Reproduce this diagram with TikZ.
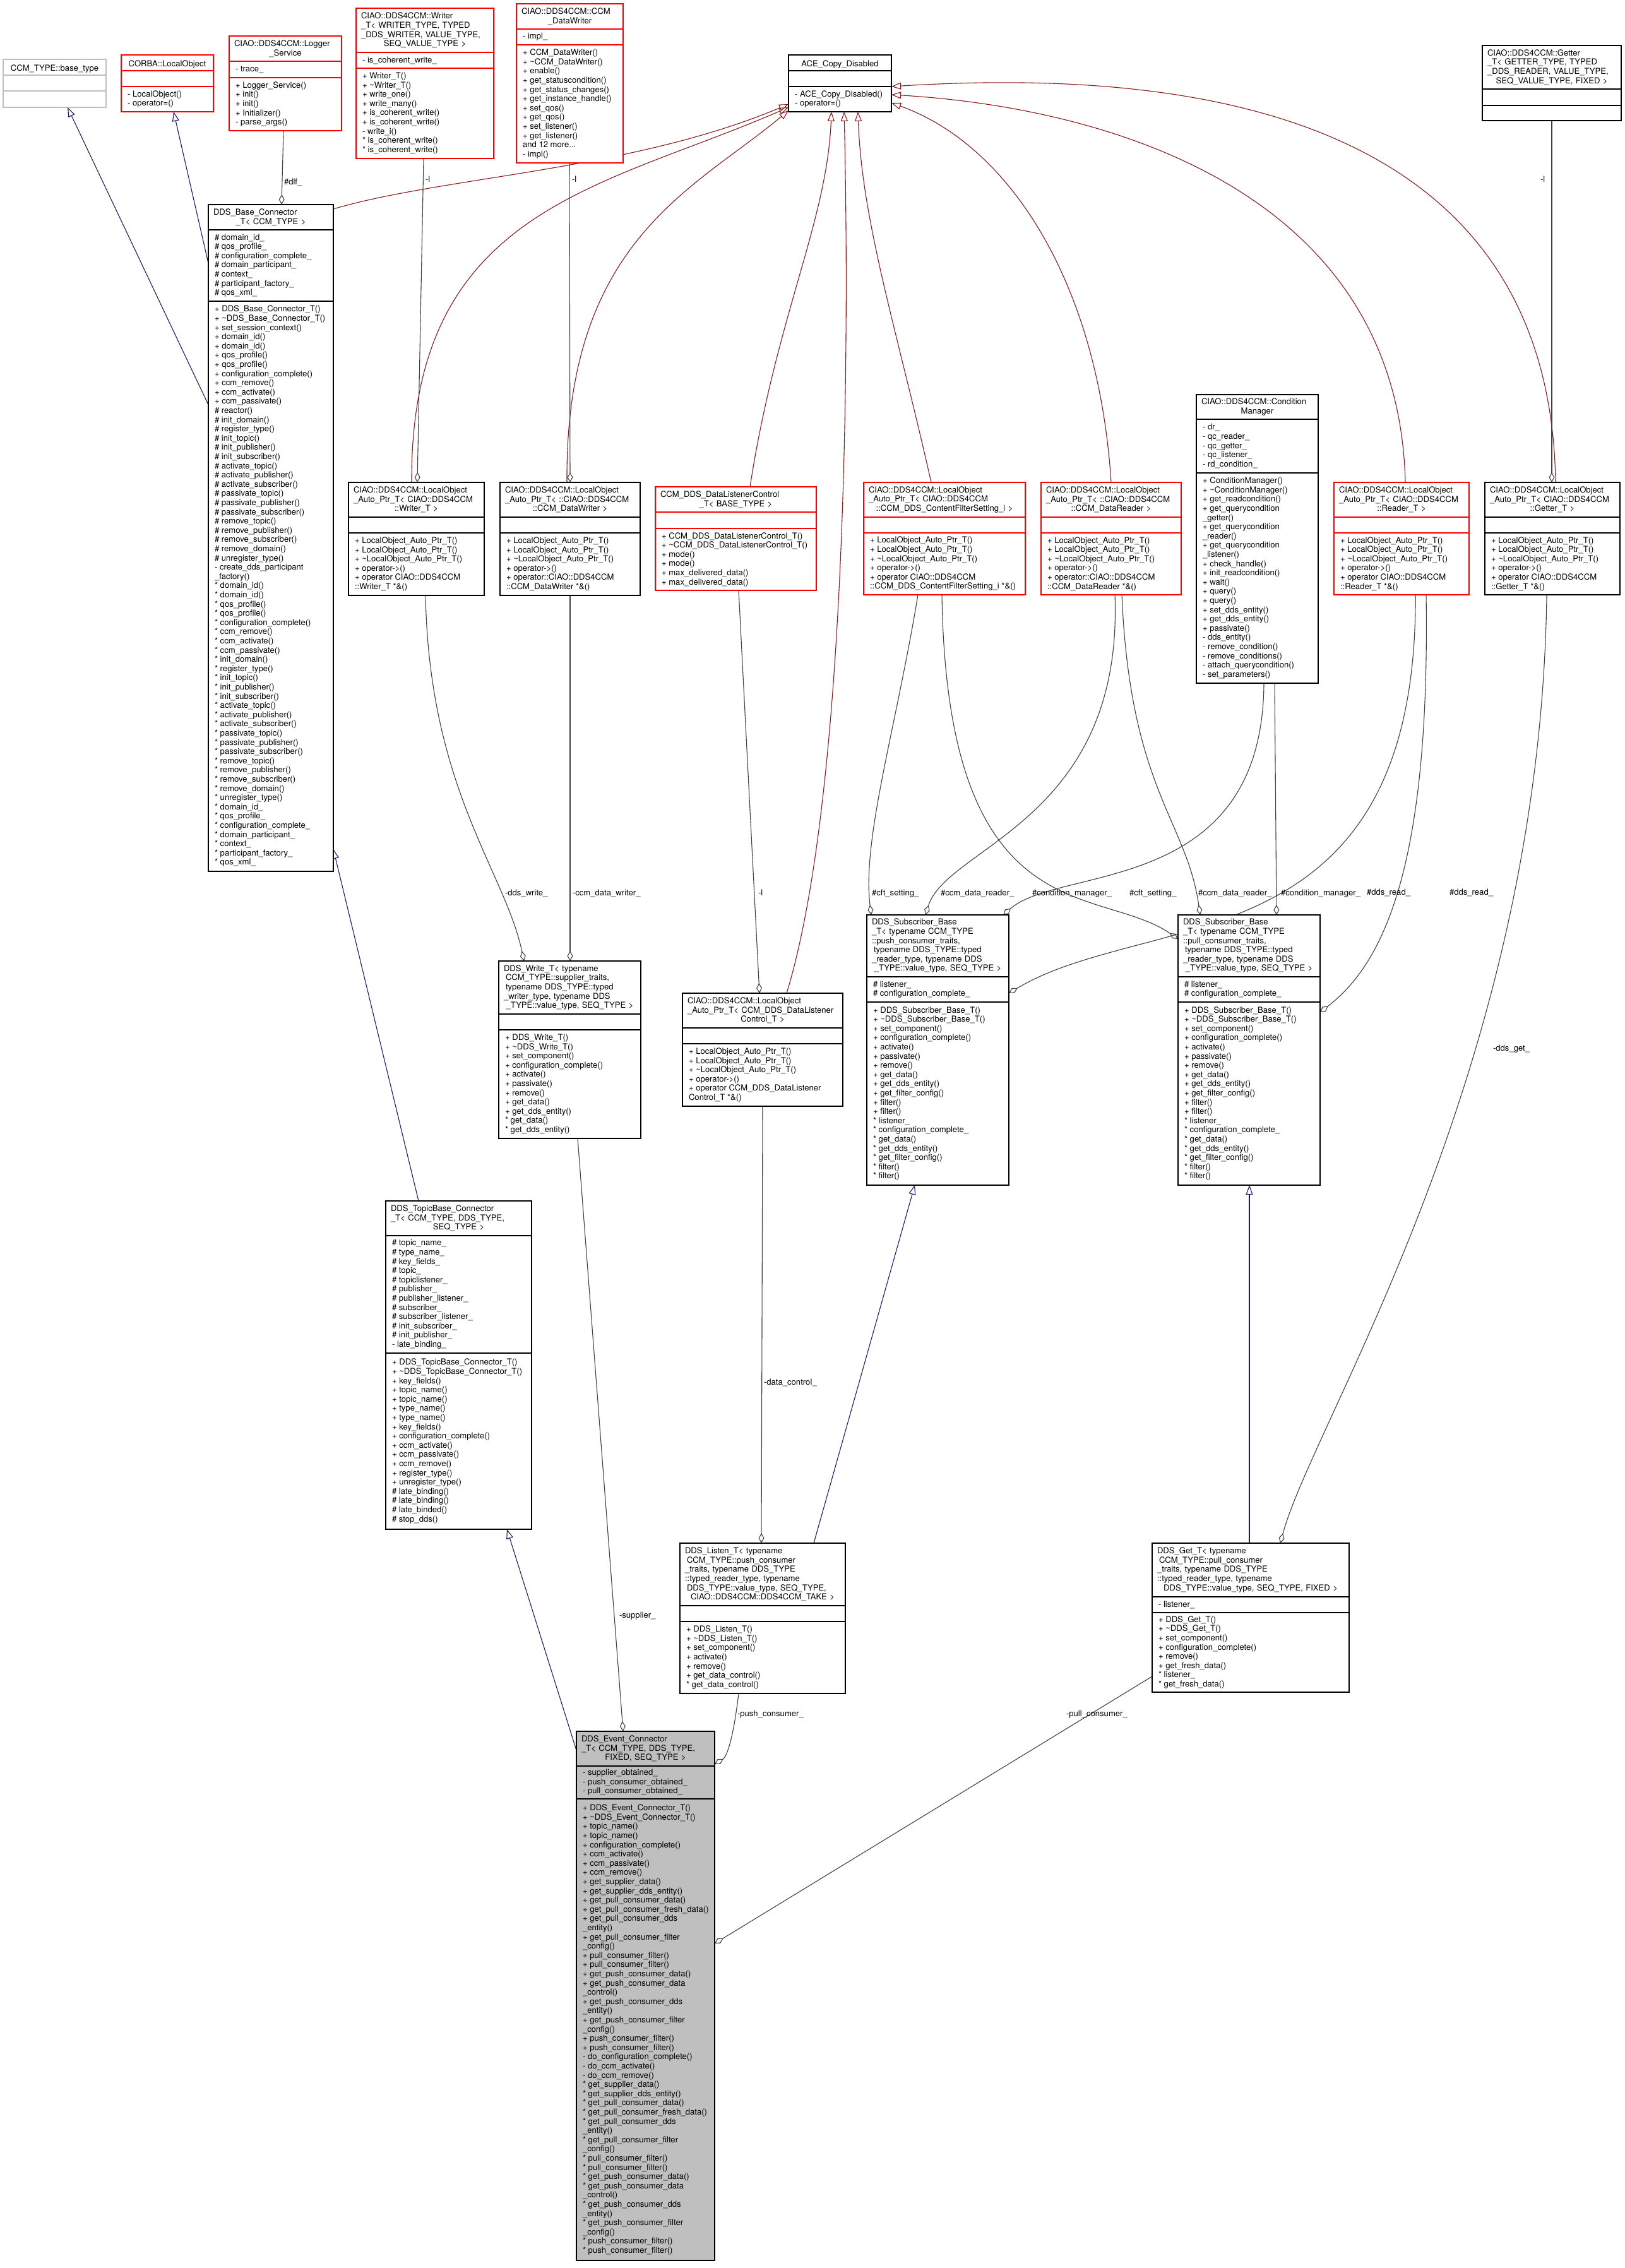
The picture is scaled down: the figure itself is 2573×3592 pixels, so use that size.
\documentclass[tikz,border=0pt]{standalone}
\usepackage{fontspec}
\setmainfont{TeX Gyre Heros}
\usetikzlibrary{fit,arrows.meta,calc}
\definecolor{blueE}{HTML}{191970}
\definecolor{redE}{HTML}{8B1A1A}
\definecolor{grayE}{HTML}{404040}
\definecolor{boxred}{HTML}{FF0000}
\definecolor{boxgray}{HTML}{BFBFBF}
\pgfdeclarelayer{back}
\pgfdeclarelayer{bg}
\pgfsetlayers{back,bg,main}
\newcommand\mytl{\textasciitilde}
\newcommand\TT[2]{{\raggedright #1\par}{\centering #2\par}}
\tikzset{
  txtf/.style={font={\fontsize{13.1}{14.6}\selectfont\parindent=0pt\parskip=0pt}},
  txt/.style={txtf, inner sep=0pt, outer sep=0pt, text=black},
  boxst/.style={inner sep=0pt, outer sep=0pt, line width=1.15pt},
  boxline/.style={line width=1.15pt},
  inh/.style={draw=blueE, line width=1.1pt, -{Triangle[open, length=15pt, width=11pt]}},
  inr/.style={draw=redE, line width=1.1pt, -{Triangle[open, length=15pt, width=11pt]}},
  agg/.style={draw=grayE, line width=1.1pt, -{Diamond[open, length=16pt, width=9pt]}},
  lbl/.style={txt}
}
% name, colour, fill, x1, y1, x2, y2, ya, yb
\newcommand\cbox[9]{%
  \node[boxst, draw=#2, fill=#3, fit={(#4,#5) (#6,#7)}] (#1) {};
  \draw[#2, boxline] (#4,#8) -- (#6,#8) (#4,#9) -- (#6,#9);
  \pgfmathsetmacro\cbw{#6-#4-16}%
  \node[txt, text width=\cbw pt, anchor=center] (#1-t) at ({(#4+#6)/2},{(#5+#8)/2}) {\Ttl};
  \node[txt, anchor=west, align=left] (#1-a) at ({#4+10},{(#8+#9)/2}) {\Att};
  \node[txt, anchor=west, align=left] (#1-m) at ({#4+10},{(#9+#7)/2}) {\Met};
}
\begin{document}
\begin{tikzpicture}[x=1pt,y=-1pt]
\useasboundingbox (0,0) rectangle (2573,3592);
\begin{pgfonlayer}{back}
\fill[white] (0,0) rectangle (2573,3592);
\end{pgfonlayer}

% ---------------- boxes ----------------
\def\Ttl{\TT{}{CCM\_TYPE::base\_type}}\def\Att{}\def\Met{}
\cbox{bt}{boxgray}{white}{5}{94}{168}{170}{119}{144}

\def\Ttl{\TT{}{CORBA::LocalObject}}\def\Att{}\def\Met{- LocalObject()\\- operator=()}
\cbox{co}{boxred}{white}{192}{87}{338}{177}{112}{137}

\def\Ttl{\TT{CIAO::DDS4CCM::Logger}{\_Service}}\def\Att{- trace\_}
\def\Met{+ Logger\_Service()\\+ init()\\+ init()\\+ Initializer()\\- parse\_args()}
\cbox{lg}{boxred}{white}{363}{57}{541}{207}{97}{123}

\def\Ttl{\TT{CIAO::DDS4CCM::Writer\\\_T< WRITER\_TYPE, TYPED\\\_DDS\_WRITER, VALUE\_TYPE,}{SEQ\_VALUE\_TYPE >}}
\def\Att{- is\_coherent\_write\_}
\def\Met{+ Writer\_T()\\+ \mytl Writer\_T()\\+ write\_one()\\+ write\_many()\\+ is\_coherent\_write()\\+ is\_coherent\_write()\\- write\_i()\\{*} is\_coherent\_write()\\{*} is\_coherent\_write()}
\cbox{wr}{boxred}{white}{564}{13}{782}{251}{83}{108}

\def\Ttl{\TT{CIAO::DDS4CCM::CCM}{\_DataWriter}}\def\Att{- impl\_}
\def\Met{+ CCM\_DataWriter()\\+ \mytl CCM\_DataWriter()\\+ enable()\\+ get\_statuscondition()\\+ get\_status\_changes()\\+ get\_instance\_handle()\\+ set\_qos()\\+ get\_qos()\\+ set\_listener()\\+ get\_listener()\\and 12 more...\\- impl()}
\cbox{dw}{boxred}{white}{818}{6}{987}{258}{46}{71}

\def\Ttl{\TT{}{ACE\_Copy\_Disabled}}\def\Att{}\def\Met{- ACE\_Copy\_Disabled()\\- operator=()}
\cbox{ace}{black}{white}{1249}{87}{1412}{177}{112}{137}

\def\Ttl{\TT{CIAO::DDS4CCM::Getter\\\_T< GETTER\_TYPE, TYPED\\\_DDS\_READER, VALUE\_TYPE,}{SEQ\_VALUE\_TYPE, FIXED >}}\def\Att{}\def\Met{}
\cbox{gt}{black}{white}{2348}{72}{2568}{191}{141}{167}

\def\Ttl{\TT{DDS\_Base\_Connector}{\_T< CCM\_TYPE >}}
\def\Att{\# domain\_id\_\\\# qos\_profile\_\\\# configuration\_complete\_\\\# domain\_participant\_\\\# context\_\\\# participant\_factory\_\\\# qos\_xml\_}
\def\Met{+ DDS\_Base\_Connector\_T()\\+ \mytl DDS\_Base\_Connector\_T()\\+ set\_session\_context()\\+ domain\_id()\\+ domain\_id()\\+ qos\_profile()\\+ qos\_profile()\\+ configuration\_complete()\\+ ccm\_remove()\\+ ccm\_activate()\\+ ccm\_passivate()\\\# reactor()\\\# init\_domain()\\\# register\_type()\\\# init\_topic()\\\# init\_publisher()\\\# init\_subscriber()\\\# activate\_topic()\\\# activate\_publisher()\\\# activate\_subscriber()\\\# passivate\_topic()\\\# passivate\_publisher()\\\# passivate\_subscriber()\\\# remove\_topic()\\\# remove\_publisher()\\\# remove\_subscriber()\\\# remove\_domain()\\\# unregister\_type()\\- create\_dds\_participant\\\_factory()\\{*} domain\_id()\\{*} domain\_id()\\{*} qos\_profile()\\{*} qos\_profile()\\{*} configuration\_complete()\\{*} ccm\_remove()\\{*} ccm\_activate()\\{*} ccm\_passivate()\\{*} init\_domain()\\{*} register\_type()\\{*} init\_topic()\\{*} init\_publisher()\\{*} init\_subscriber()\\{*} activate\_topic()\\{*} activate\_publisher()\\{*} activate\_subscriber()\\{*} passivate\_topic()\\{*} passivate\_publisher()\\{*} passivate\_subscriber()\\{*} remove\_topic()\\{*} remove\_publisher()\\{*} remove\_subscriber()\\{*} remove\_domain()\\{*} unregister\_type()\\{*} domain\_id\_\\{*} qos\_profile\_\\{*} configuration\_complete\_\\{*} domain\_participant\_\\{*} context\_\\{*} participant\_factory\_\\{*} qos\_xml\_}
\cbox{bc}{black}{white}{330}{324}{528}{1380}{364}{477}

\def\Att{}
\def\Ttl{\TT{CIAO::DDS4CCM::LocalObject\\\_Auto\_Ptr\_T< CIAO::DDS4CCM}{::Writer\_T >}}
\def\Met{+ LocalObject\_Auto\_Ptr\_T()\\+ LocalObject\_Auto\_Ptr\_T()\\+ \mytl LocalObject\_Auto\_Ptr\_T()\\+ operator->()\\+ operator CIAO::DDS4CCM\\::Writer\_T *\&()}
\cbox{low}{black}{white}{552}{764}{767}{943}{819}{844}

\def\Ttl{\TT{CIAO::DDS4CCM::LocalObject\\\_Auto\_Ptr\_T< ::CIAO::DDS4CCM}{::CCM\_DataWriter >}}
\def\Met{+ LocalObject\_Auto\_Ptr\_T()\\+ LocalObject\_Auto\_Ptr\_T()\\+ \mytl LocalObject\_Auto\_Ptr\_T()\\+ operator->()\\+ operator::CIAO::DDS4CCM\\::CCM\_DataWriter *\&()}
\cbox{lodw}{black}{white}{792}{764}{1014}{943}{819}{844}

\def\Ttl{\TT{CCM\_DDS\_DataListenerControl}{\_T< BASE\_TYPE >}}
\def\Met{+ CCM\_DDS\_DataListenerControl\_T()\\+ \mytl CCM\_DDS\_DataListenerControl\_T()\\+ mode()\\+ mode()\\+ max\_delivered\_data()\\+ max\_delivered\_data()}
\cbox{dlc}{boxred}{white}{1038}{771}{1293}{935}{811}{837}

\def\Ttl{\TT{CIAO::DDS4CCM::LocalObject\\\_Auto\_Ptr\_T< CIAO::DDS4CCM}{::CCM\_DDS\_ContentFilterSetting\_i >}}
\def\Met{+ LocalObject\_Auto\_Ptr\_T()\\+ LocalObject\_Auto\_Ptr\_T()\\+ \mytl LocalObject\_Auto\_Ptr\_T()\\+ operator->()\\+ operator CIAO::DDS4CCM\\::CCM\_DDS\_ContentFilterSetting\_i *\&()}
\cbox{locf}{boxred}{white}{1368}{764}{1624}{942}{819}{844}

\def\Ttl{\TT{CIAO::DDS4CCM::LocalObject\\\_Auto\_Ptr\_T< ::CIAO::DDS4CCM}{::CCM\_DataReader >}}
\def\Met{+ LocalObject\_Auto\_Ptr\_T()\\+ LocalObject\_Auto\_Ptr\_T()\\+ \mytl LocalObject\_Auto\_Ptr\_T()\\+ operator->()\\+ operator::CIAO::DDS4CCM\\::CCM\_DataReader *\&()}
\cbox{lodr}{boxred}{white}{1649}{764}{1871}{942}{819}{844}

\def\Ttl{\TT{CIAO::DDS4CCM::Condition}{Manager}}
\def\Att{- dr\_\\- qc\_reader\_\\- qc\_getter\_\\- qc\_listener\_\\- rd\_condition\_}
\def\Met{+ ConditionManager()\\+ \mytl ConditionManager()\\+ get\_readcondition()\\+ get\_querycondition\\\_getter()\\+ get\_querycondition\\\_reader()\\+ get\_querycondition\\\_listener()\\+ check\_handle()\\+ init\_readcondition()\\+ wait()\\+ query()\\+ query()\\+ set\_dds\_entity()\\+ get\_dds\_entity()\\+ passivate()\\- dds\_entity()\\- remove\_condition()\\- remove\_conditions()\\- attach\_querycondition()\\- set\_parameters()}
\cbox{cm}{black}{white}{1895}{625}{2088}{1082}{664}{749}

\def\Att{}
\def\Ttl{\TT{CIAO::DDS4CCM::LocalObject\\\_Auto\_Ptr\_T< CIAO::DDS4CCM}{::Reader\_T >}}
\def\Met{+ LocalObject\_Auto\_Ptr\_T()\\+ LocalObject\_Auto\_Ptr\_T()\\+ \mytl LocalObject\_Auto\_Ptr\_T()\\+ operator->()\\+ operator CIAO::DDS4CCM\\::Reader\_T *\&()}
\cbox{lord}{boxred}{white}{2113}{764}{2327}{942}{819}{844}

\def\Ttl{\TT{CIAO::DDS4CCM::LocalObject\\\_Auto\_Ptr\_T< CIAO::DDS4CCM}{::Getter\_T >}}
\def\Met{+ LocalObject\_Auto\_Ptr\_T()\\+ LocalObject\_Auto\_Ptr\_T()\\+ \mytl LocalObject\_Auto\_Ptr\_T()\\+ operator->()\\+ operator CIAO::DDS4CCM\\::Getter\_T *\&()}
\cbox{loget}{black}{white}{2352}{764}{2566}{942}{819}{844}

\def\Ttl{\TT{DDS\_Write\_T< typename\\\hspace*{3pt}CCM\_TYPE::supplier\_traits,\\\hspace*{3pt}typename DDS\_TYPE::typed\\\_writer\_type, typename DDS}{\_TYPE::value\_type, SEQ\_TYPE >}}
\def\Met{+ DDS\_Write\_T()\\+ \mytl DDS\_Write\_T()\\+ set\_component()\\+ configuration\_complete()\\+ activate()\\+ passivate()\\+ remove()\\+ get\_data()\\+ get\_dds\_entity()\\{*} get\_data()\\{*} get\_dds\_entity()}
\cbox{wt}{black}{white}{790}{1522}{1015}{1803}{1606}{1631}

\def\Ttl{\TT{CIAO::DDS4CCM::LocalObject\\\_Auto\_Ptr\_T< CCM\_DDS\_DataListener}{Control\_T >}}
\def\Met{+ LocalObject\_Auto\_Ptr\_T()\\+ LocalObject\_Auto\_Ptr\_T()\\+ \mytl LocalObject\_Auto\_Ptr\_T()\\+ operator->()\\+ operator CCM\_DDS\_DataListener\\Control\_T *\&()}
\cbox{lolc}{black}{white}{1081}{1573}{1335}{1752}{1628}{1653}

\def\Att{\# listener\_\\\# configuration\_complete\_}
\def\Met{+ DDS\_Subscriber\_Base\_T()\\+ \mytl DDS\_Subscriber\_Base\_T()\\+ set\_component()\\+ configuration\_complete()\\+ activate()\\+ passivate()\\+ remove()\\+ get\_data()\\+ get\_dds\_entity()\\+ get\_filter\_config()\\+ filter()\\+ filter()\\{*} listener\_\\{*} configuration\_complete\_\\{*} get\_data()\\{*} get\_dds\_entity()\\{*} get\_filter\_config()\\{*} filter()\\{*} filter()}
\def\Ttl{\TT{DDS\_Subscriber\_Base\\\_T< typename CCM\_TYPE\\::push\_consumer\_traits,\\\hspace*{3pt}typename DDS\_TYPE::typed\\\_reader\_type, typename DDS}{\_TYPE::value\_type, SEQ\_TYPE >}}
\cbox{sbp}{black}{white}{1373}{1449}{1598}{1877}{1547}{1587}
\def\Ttl{\TT{DDS\_Subscriber\_Base\\\_T< typename CCM\_TYPE\\::pull\_consumer\_traits,\\\hspace*{3pt}typename DDS\_TYPE::typed\\\_reader\_type, typename DDS}{\_TYPE::value\_type, SEQ\_TYPE >}}
\cbox{sbl}{black}{white}{1866}{1449}{2091}{1877}{1547}{1587}

\def\Ttl{\TT{DDS\_TopicBase\_Connector\\\_T< CCM\_TYPE, DDS\_TYPE,}{SEQ\_TYPE >}}
\def\Att{\# topic\_name\_\\\# type\_name\_\\\# key\_fields\_\\\# topic\_\\\# topiclistener\_\\\# publisher\_\\\# publisher\_listener\_\\\# subscriber\_\\\# subscriber\_listener\_\\\# init\_subscriber\_\\\# init\_publisher\_\\- late\_binding\_}
\def\Met{+ DDS\_TopicBase\_Connector\_T()\\+ \mytl DDS\_TopicBase\_Connector\_T()\\+ key\_fields()\\+ topic\_name()\\+ topic\_name()\\+ type\_name()\\+ type\_name()\\+ key\_fields()\\+ configuration\_complete()\\+ ccm\_activate()\\+ ccm\_passivate()\\+ ccm\_remove()\\+ register\_type()\\+ unregister\_type()\\\# late\_binding()\\\# late\_binding()\\\# late\_binded()\\\# stop\_dds()}
\cbox{tb}{black}{white}{611}{1902}{842}{2422}{1957}{2143}

\def\Ttl{\TT{DDS\_Listen\_T< typename\\\hspace*{3pt}CCM\_TYPE::push\_consumer\\\_traits, typename DDS\_TYPE\\::typed\_reader\_type, typename\\\hspace*{3pt}DDS\_TYPE::value\_type, SEQ\_TYPE,}{CIAO::DDS4CCM::DDS4CCM\_TAKE >}}
\def\Att{}
\def\Met{+ DDS\_Listen\_T()\\+ \mytl DDS\_Listen\_T()\\+ set\_component()\\+ activate()\\+ remove()\\+ get\_data\_control()\\{*} get\_data\_control()}
\cbox{ls}{black}{white}{1077}{2444}{1339}{2682}{2543}{2568}

\def\Ttl{\TT{DDS\_Get\_T< typename\\\hspace*{3pt}CCM\_TYPE::pull\_consumer\\\_traits, typename DDS\_TYPE\\::typed\_reader\_type, typename}{DDS\_TYPE::value\_type, SEQ\_TYPE, FIXED >}}
\def\Att{- listener\_}
\def\Met{+ DDS\_Get\_T()\\+ \mytl DDS\_Get\_T()\\+ set\_component()\\+ configuration\_complete()\\+ remove()\\+ get\_fresh\_data()\\{*} listener\_\\{*} get\_fresh\_data()}
\cbox{gtt}{black}{white}{1825}{2444}{2137}{2680}{2529}{2554}

\def\Ttl{\TT{DDS\_Event\_Connector\\\_T< CCM\_TYPE, DDS\_TYPE,}{FIXED, SEQ\_TYPE >}}
\def\Att{- supplier\_obtained\_\\- push\_consumer\_obtained\_\\- pull\_consumer\_obtained\_}
\def\Met{+ DDS\_Event\_Connector\_T()\\+ \mytl DDS\_Event\_Connector\_T()\\+ topic\_name()\\+ topic\_name()\\+ configuration\_complete()\\+ ccm\_activate()\\+ ccm\_passivate()\\+ ccm\_remove()\\+ get\_supplier\_data()\\+ get\_supplier\_dds\_entity()\\+ get\_pull\_consumer\_data()\\+ get\_pull\_consumer\_fresh\_data()\\+ get\_pull\_consumer\_dds\\\_entity()\\+ get\_pull\_consumer\_filter\\\_config()\\+ pull\_consumer\_filter()\\+ pull\_consumer\_filter()\\+ get\_push\_consumer\_data()\\+ get\_push\_consumer\_data\\\_control()\\+ get\_push\_consumer\_dds\\\_entity()\\+ get\_push\_consumer\_filter\\\_config()\\+ push\_consumer\_filter()\\+ push\_consumer\_filter()\\- do\_configuration\_complete()\\- do\_ccm\_activate()\\- do\_ccm\_remove()\\{*} get\_supplier\_data()\\{*} get\_supplier\_dds\_entity()\\{*} get\_pull\_consumer\_data()\\{*} get\_pull\_consumer\_fresh\_data()\\{*} get\_pull\_consumer\_dds\\\_entity()\\{*} get\_pull\_consumer\_filter\\\_config()\\{*} pull\_consumer\_filter()\\{*} pull\_consumer\_filter()\\{*} get\_push\_consumer\_data()\\{*} get\_push\_consumer\_data\\\_control()\\{*} get\_push\_consumer\_dds\\\_entity()\\{*} get\_push\_consumer\_filter\\\_config()\\{*} push\_consumer\_filter()\\{*} push\_consumer\_filter()}
\cbox{ev}{black}{boxgray}{913}{2742}{1132}{3580}{2797}{2849}

% ---------------- connectors ----------------
\begin{pgfonlayer}{bg}
% inheritance (blue)
\draw[inh] (bc.west |- 0,641) -- (bt.south -| 107,0);
\draw[inh] (bc.west |- 0,417) -- (co.south -| 275,0);
\draw[inh] (tb.north -| 663,0) -- (bc.east |- 0,1345);
\draw[inh] (ev.west |- 0,2772) -- (tb.south -| 803,0);
\draw[inh] (ls.north -| 1289,0) -- (sbp.south -| 1449,0);
\draw[inh] (gtt.north -| 1979,0) -- (sbl.south -| 1979,0);
% inheritance (dark red) to ACE_Copy_Disabled
\draw[inr] (bc.east |- 0,331) .. controls (700,280) and (1000,270) .. (ace.west |- 0,165);
\draw[inr] (low.north -| 652,0) .. controls (650,330) and (950,300) .. (ace.west |- 0,170);
\draw[inr] (lodw.north -| 898,0) .. controls (895,380) and (1100,300) .. (ace.west |- 0,175);
\draw[inr] (dlc.north -| 1188,0) .. controls (1230,500) and (1310,350) .. (ace.south -| 1317,0);
\draw[inr] (lolc.north -| 1246,0) .. controls (1345,1250) and (1345,500) .. (ace.south -| 1337,0);
\draw[inr] (locf.north -| 1475,0) .. controls (1420,520) and (1365,350) .. (ace.south -| 1359,0);
\draw[inr] (lodr.north -| 1760,0) .. controls (1740,450) and (1600,230) .. (ace.east |- 0,163);
\draw[inr] (lord.north -| 2226,0) .. controls (2215,300) and (1750,170) .. (ace.east |- 0,150);
\draw[inr] (loget.north -| 2464,0) .. controls (2455,160) and (1850,110) .. (ace.east |- 0,137);
% associations (gray, diamond at owner)
\draw[agg] (lg.south -| 449,0) -- (bc.north -| 446,0);
\draw[agg] (wr.south -| 671,0) -- (low.north -| 661,0);
\draw[agg] (dw.south -| 902,0) -- (lodw.north -| 903,0);
\draw[agg] (low.south -| 674,0) .. controls (680,1250) and (800,1380) .. (wt.north -| 830,0);
\draw[agg] (lodw.south -| 903,0) -- (wt.north -| 903,0);
\draw[agg] (dlc.south -| 1170,0) -- (lolc.north -| 1203,0);
\draw[agg] (lolc.south -| 1208,0) -- (ls.north -| 1206,0);
\draw[agg] (locf.south -| 1454,0) .. controls (1420,1150) and (1365,1330) .. (sbp.north -| 1380,0);
\draw[agg] (locf.south -| 1492,0) .. controls (1500,1480) and (1740,1400) .. (sbl.west |- 0,1487);
\draw[agg] (lodr.south -| 1766,0) .. controls (1780,1300) and (1500,1340) .. (sbp.north -| 1466,0);
\draw[agg] (lodr.south -| 1777,0) .. controls (1790,1250) and (1880,1300) .. (sbl.north -| 1901,0);
\draw[agg] (cm.south -| 2002,0) .. controls (2000,1420) and (1680,1370) .. (sbp.north -| 1589,0);
\draw[agg] (cm.south -| 2019,0) -- (sbl.north -| 2022,0);
\draw[agg] (lord.south -| 2242,0) .. controls (2245,1530) and (1820,1440) .. (sbp.east |- 0,1573);
\draw[agg] (lord.south -| 2259,0) .. controls (2265,1350) and (2200,1520) .. (sbl.east |- 0,1603);
\draw[agg] (loget.south -| 2450,0) .. controls (2440,1700) and (2080,2250) .. (gtt.north -| 2028,0);
\draw[agg] (gt.south -| 2458,0) -- (loget.north -| 2458,0);
\draw[agg] (wt.south -| 915,0) -- (ev.north -| 987,0);
\draw[agg] (ls.south -| 1170,0) .. controls (1162,2750) and (1152,2782) .. (ev.east |- 0,2794);
\draw[agg] (gtt.west |- 0,2655) -- (ev.east |- 0,3078);
\end{pgfonlayer}

% ---------------- labels ----------------
\node[lbl, anchor=west] (l-dlf) at (450,289) {\#dlf\_};
\node[lbl, anchor=west] (l-w1) at (674,284) {-l};
\node[lbl, anchor=west] (l-w2) at (906,284) {-l};
\node[lbl, anchor=west] (l-g1) at (2440,284) {-l};
\node[lbl, anchor=west] (l-lc) at (1201,1414) {-l};
\node[lbl, anchor=west] (l-dw) at (800,1415) {-dds\_write\_};
\node[lbl, anchor=west] (l-cdw) at (907,1415) {-ccm\_data\_writer\_};
\node[lbl, anchor=west] (l-cft1) at (1381,1415) {\#cft\_setting\_};
\node[lbl, anchor=west] (l-cdr1) at (1490,1415) {\#ccm\_data\_reader\_};
\node[lbl, anchor=west] (l-cmg1) at (1635,1415) {\#condition\_manager\_};
\node[lbl, anchor=west] (l-cft2) at (1789,1415) {\#cft\_setting\_};
\node[lbl, anchor=west] (l-cdr2) at (1898,1415) {\#ccm\_data\_reader\_};
\node[lbl, anchor=west] (l-cmg2) at (2029,1415) {\#condition\_manager\_};
\node[lbl, anchor=west] (l-rd1) at (2165,1414) {\#dds\_read\_};
\node[lbl, anchor=west] (l-rd2) at (2296,1414) {\#dds\_read\_};
\node[lbl, anchor=west] (l-get) at (2365,1661) {-dds\_get\_};
\node[lbl, anchor=west] (l-dc) at (1210,2190) {-data\_control\_};
\node[lbl, anchor=west] (l-sup) at (981,2559) {-supplier\_};
\node[lbl, anchor=west] (l-psh) at (1168,2715) {-push\_consumer\_};
\node[lbl, anchor=west] (l-pll) at (1689,2715) {-pull\_consumer\_};
\end{tikzpicture}
\end{document}
